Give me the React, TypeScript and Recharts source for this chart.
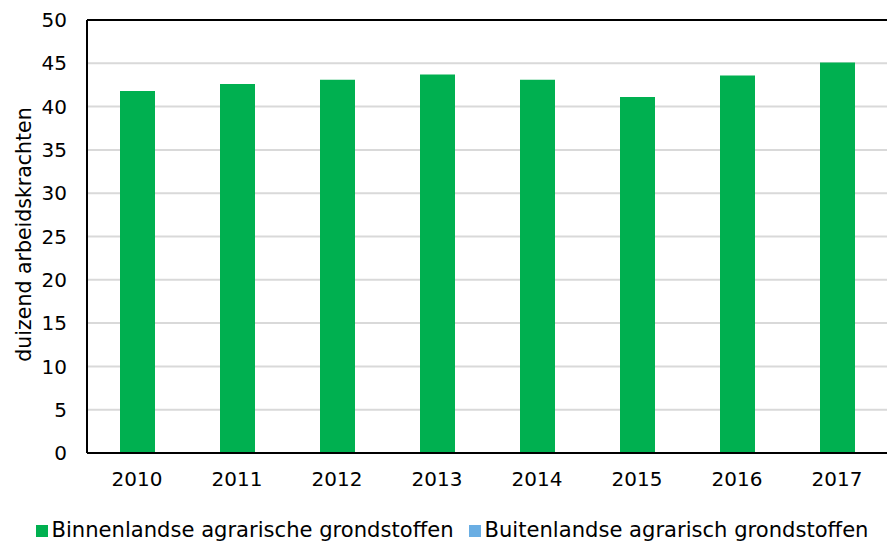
import React from "react";
import { BarChart, Bar, XAxis, YAxis, CartesianGrid, Legend, ReferenceLine } from "recharts";

const years = ["2010", "2011", "2012", "2013", "2014", "2015", "2016", "2017"];
const binnenlands = [41.8, 42.6, 43.1, 43.7, 43.1, 41.1, 43.6, 45.1];
const buitenlands = [0, 0, 0, 0, 0, 0, 0, 0];
const yTicks = [0, 5, 10, 15, 20, 25, 30, 35, 40, 45, 50];

const data = years.map((y, i) => ({ year: y, binnen: binnenlands[i], buiten: buitenlands[i] }));

const FONT = "'DejaVu Sans', Verdana, sans-serif";

export default function App() {
  return (
    <div style={{ position: "relative", width: 887, height: 544, overflow: "hidden" }}>
      <style>{`body{margin:0;overflow:hidden;}`}</style>
      <BarChart
        width={887}
        height={544}
        data={data}
        margin={{ top: 20, right: 0, left: 0, bottom: 0 }}
        barSize={35}
      >
        <CartesianGrid vertical={false} stroke="#d9d9d9" strokeWidth={2} />
        <XAxis
          dataKey="year"
          height={91}
          tickSize={0}
          tickMargin={19}
          axisLine={{ stroke: "#000", strokeWidth: 2 }}
          tick={{ fill: "#000", fontSize: 20, fontFamily: FONT }}
        />
        <YAxis
          width={87}
          domain={[0, 50]}
          ticks={yTicks}
          interval={0}
          tickSize={0}
          tickMargin={20}
          axisLine={{ stroke: "#000", strokeWidth: 2 }}
          tick={{ fill: "#000", fontSize: 20, fontFamily: FONT }}
          label={{
            value: "duizend arbeidskrachten",
            angle: -90,
            position: "insideLeft",
            offset: 23.5,
            dy: -2,
            style: { textAnchor: "middle", fill: "#000", fontSize: 20.5, fontFamily: FONT },
          }}
        />
        <ReferenceLine y={50} stroke="#000" strokeWidth={2} />
        <Legend
          verticalAlign="middle"
          align="center"
          iconType="square"
          iconSize={12}
          wrapperStyle={{ top: 517, left: 22, width: 870, fontFamily: FONT, fontSize: 21.1 }}
          formatter={(v, _e, i) => (
            <span style={{ color: "#000", marginRight: i === 0 ? 5 : 0 }}>{v}</span>
          )}
        />
        <Bar
          dataKey="binnen"
          name="Binnenlandse agrarische grondstoffen"
          stackId="a"
          fill="#00B050"
          isAnimationActive={false}
        />
        <Bar
          dataKey="buiten"
          name="Buitenlandse agrarisch grondstoffen"
          stackId="a"
          fill="#6AAEE3"
          isAnimationActive={false}
        />
      </BarChart>
    </div>
  );
}
